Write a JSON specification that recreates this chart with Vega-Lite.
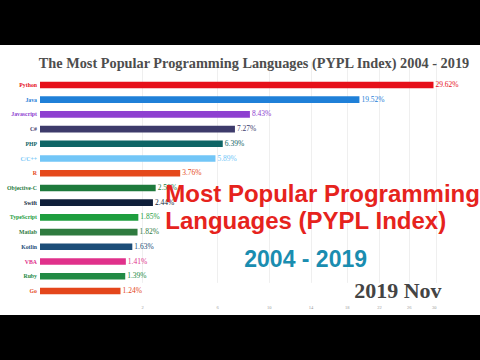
{
  "$schema": "https://vega.github.io/schema/vega-lite/v6.json",
  "width": 480,
  "height": 270,
  "autosize": "none",
  "padding": {"top": 45, "bottom": 45, "left": 0, "right": 0},
  "background": "black",
  "config": {"view": {"fill": "white", "stroke": null}},
  "title": {
    "text": "The Most Popular Programming Languages (PYPL Index) 2004 - 2019",
    "font": "Liberation Serif",
    "fontSize": 14.3,
    "fontWeight": "bold",
    "color": "#4d4d4d",
    "anchor": "middle",
    "offset": -26,
    "dx": 14
  },
  "data": {
    "values": [
      {"lang": "Python", "value": 29.62, "label": "29.62%"},
      {"lang": "Java", "value": 19.52, "label": "19.52%"},
      {"lang": "Javascript", "value": 8.43, "label": "8.43%"},
      {"lang": "C#", "value": 7.27, "label": "7.27%"},
      {"lang": "PHP", "value": 6.39, "label": "6.39%"},
      {"lang": "C/C++", "value": 5.89, "label": "5.89%"},
      {"lang": "R", "value": 3.76, "label": "3.76%"},
      {"lang": "Objective-C", "value": 2.56, "label": "2.56%"},
      {"lang": "Swift", "value": 2.44, "label": "2.44%"},
      {"lang": "TypeScript", "value": 1.85, "label": "1.85%"},
      {"lang": "Matlab", "value": 1.82, "label": "1.82%"},
      {"lang": "Kotlin", "value": 1.63, "label": "1.63%"},
      {"lang": "VBA", "value": 1.41, "label": "1.41%"},
      {"lang": "Ruby", "value": 1.39, "label": "1.39%"},
      {"lang": "Go", "value": 1.24, "label": "1.24%"}
    ]
  },
  "encoding": {
    "y": {
      "field": "lang",
      "type": "nominal",
      "sort": null,
      "axis": null,
      "scale": {"range": [32.6, 253.3], "paddingInner": 0.55, "paddingOuter": 0.275}
    }
  },
  "layer": [
    {
      "mark": {"type": "bar"},
      "encoding": {
        "x": {
          "field": "value",
          "type": "quantitative",
          "scale": {"type": "sqrt", "domain": [0, 30], "range": [40, 436], "nice": false, "zero": true},
          "axis": {
            "values": [2, 4, 6, 8, 10, 12, 14, 16, 18, 20, 22, 24, 26, 28, 30],
            "title": null,
            "domain": false,
            "ticks": false,
            "grid": true,
            "gridColor": "#ebebeb",
            "gridWidth": 0.8,
            "labelFont": "Liberation Serif",
            "labelFontSize": 4.5,
            "labelColor": "#999999",
            "labelPadding": 1,
            "offset": -12
          }
        },
        "color": {
          "field": "lang",
          "type": "nominal",
          "legend": null,
          "scale": {
            "domain": ["Python", "Java", "Javascript", "C#", "PHP", "C/C++", "R", "Objective-C", "Swift", "TypeScript", "Matlab", "Kotlin", "VBA", "Ruby", "Go"],
            "range": ["#e60f1a", "#1f80d8", "#8e40d0", "#3d3b6b", "#0f6566", "#72c6f7", "#e5491b", "#1e7a3c", "#0f1f3a", "#1e9e3e", "#2f7b3f", "#1c4d78", "#e0318b", "#228a45", "#e4461b"]
          }
        }
      }
    },
    {
      "mark": {"type": "text", "align": "left", "baseline": "middle", "dx": 2, "font": "Liberation Serif", "fontSize": 7.5},
      "encoding": {
        "x": {"field": "value", "type": "quantitative"},
        "text": {"field": "label"},
        "color": {"field": "lang", "type": "nominal", "legend": null}
      }
    },
    {
      "mark": {"type": "text", "align": "right", "baseline": "middle", "dx": -3, "font": "Liberation Serif", "fontSize": 5.8, "fontWeight": "bold"},
      "encoding": {
        "x": {"datum": 0},
        "text": {"field": "lang"},
        "color": {"field": "lang", "type": "nominal", "legend": null}
      }
    },
    {
      "data": {"values": [{}]},
      "mark": {"type": "text", "align": "left", "baseline": "alphabetic", "dy": -1, "font": "Liberation Sans", "fontSize": 24, "fontWeight": "bold", "color": "#e6231d", "lineHeight": 27, "text": ["Most Popular Programming", "Languages (PYPL Index)"]},
      "encoding": {
        "x": {"datum": 3},
        "y": {"datum": "Swift"}
      }
    },
    {
      "data": {"values": [{}]},
      "mark": {"type": "text", "align": "center", "baseline": "alphabetic", "dy": 5, "font": "Liberation Sans", "fontSize": 23, "fontWeight": "bold", "color": "#1a8db0", "text": "2004 - 2019"},
      "encoding": {
        "x": {"datum": 13.5},
        "y": {"datum": "VBA"}
      }
    },
    {
      "data": {"values": [{}]},
      "mark": {"type": "text", "align": "center", "baseline": "alphabetic", "dy": 7, "font": "Liberation Serif", "fontSize": 22, "fontWeight": "bold", "color": "#444444", "text": "2019 Nov"},
      "encoding": {
        "x": {"datum": 24.5},
        "y": {"datum": "Go"}
      }
    }
  ]
}
